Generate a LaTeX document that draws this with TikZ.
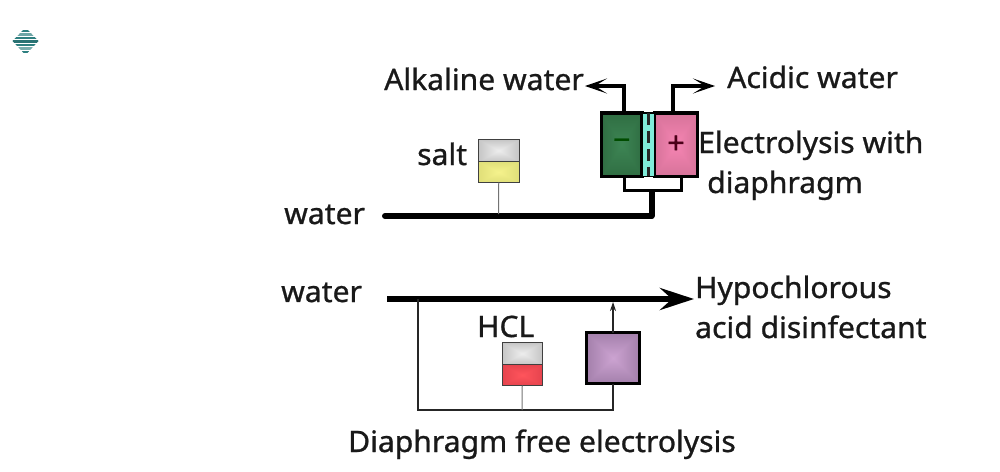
\documentclass[tikz,border=0pt]{standalone}
\usepackage{fontspec}
\setmainfont[FakeBold=0.9,FakeStretch=1.02]{Noto Sans}
\usetikzlibrary{arrows.meta,shadings}
\newcommand\pyrshade[7]{%
\pgfdeclarefunctionalshading{#1}{\pgfpoint{-50bp}{-50bp}}{\pgfpoint{50bp}{50bp}}{}{%
abs exch abs 2 copy lt {exch} if pop 50 div
dup #5 #2 sub mul #2 add exch dup #6 #3 sub mul #3 add exch #7 #4 sub mul #4 add}}
\pyrshade{pgreen}{0.24}{0.52}{0.33}{0.13}{0.34}{0.19}
\pyrshade{ppink}{0.96}{0.52}{0.70}{0.72}{0.38}{0.50}
\pyrshade{ppurple}{0.80}{0.64}{0.82}{0.48}{0.36}{0.52}
\pyrshade{pgrey}{0.93}{0.93}{0.93}{0.62}{0.62}{0.62}
\pyrshade{pyellow}{0.96}{0.95}{0.55}{0.80}{0.80}{0.40}
\pyrshade{pred}{1.00}{0.33}{0.36}{0.80}{0.20}{0.25}
\definecolor{tealicon}{HTML}{2E7F80}
\definecolor{membrane}{HTML}{7FEBD9}
\tikzset{
 lab/.style={anchor=base west,inner sep=0,font=\fontsize{29.5}{30}\selectfont,text=black!90},
 box/.style={draw=black,line width=3.5pt,inner sep=0,outer sep=0,anchor=north west},
 pipe/.style={line width=6pt,draw=black},
 midpipe/.style={line width=4pt,draw=black},
 thinpipe/.style={line width=3pt,draw=black},
 feed/.style={line width=1pt,draw=black!55},
 loop/.style={line width=2pt,draw=black!85},
 tank/.style={draw=black!75,line width=.8pt,inner sep=0,outer sep=0,anchor=north west,minimum width=40.5pt},
 bigtip/.style={-{Stealth[length=34pt,width=22pt,inset=12pt,fill=black]}},
 open/.style={-{Stealth[length=22pt,width=15pt,inset=12pt,fill=black]}},
}
\begin{document}
\begin{tikzpicture}[x=1pt,y=-1pt]
\useasboundingbox (0,0) rectangle (1000,471);
% icon
\begin{scope}
\clip (25.5,27.5) -- (38.5,41) -- (25.5,55) -- (12.5,41) -- cycle;
\foreach \yy/\cc in {31/tealicon,34.5/tealicon!70,38/tealicon,41.5/tealicon!90!black,45/tealicon,48.5/tealicon!65,52/tealicon}
  \fill[\cc] (10,\yy-1.3) rectangle (40,\yy+1.3);
\end{scope}
% upper cell
\node[box,shading=pgreen,minimum width=40.5pt,minimum height=63.5pt] (neg) at (601.5,112.8) {};
\node[box,shading=ppink,minimum width=43pt,minimum height=63.5pt] (pos) at (654.5,112.8) {};
\node[draw=black,line width=1.5pt,fill=membrane,inner sep=0,outer sep=0,minimum width=12.5pt,minimum height=63.5pt,anchor=north west] (div) at (642,112.8) {};
\draw[line width=3pt,dash pattern=on 12pt off 6pt,draw=black!85] (div.north) -- (div.south);
\node[inner sep=0,font=\fontsize{30}{30}\selectfont,text=black!70!green] (minus) at (neg.center) {−};
\node[inner sep=0,font=\fontsize{30}{30}\selectfont,text=black!60!purple] (plus) at (pos.center) {+};
\coordinate (alkb) at (624,113);
\coordinate (alkc) at (624,86);
\coordinate (alkt) at (585,86);
\coordinate (acib) at (673,113);
\coordinate (acic) at (673,86);
\coordinate (acit) at (715,86);
\draw[midpipe,open] (alkb) -- (alkc) -- (alkt);
\draw[midpipe,open] (acib) -- (acic) -- (acit);
\coordinate (ml) at (624,178);
\coordinate (mr) at (681,178);
\coordinate (mj) at (651,190);
\coordinate (mp) at (651.5,192);
\draw[thinpipe] (ml) |- (mr |- mj) -- (mr);
\coordinate (wst) at (385,216);
\coordinate (wc) at (651.5,216);
\draw[pipe,line cap=butt,line join=round] (wst) -- (wc) -- (mp);
\fill (wst) circle (3pt);
% salt tank
\node[tank,shading=pgrey,minimum height=22pt] (saltair) at (478.5,139.5) {};
\node[tank,shading=pyellow,minimum height=21pt] (saltliq) at (478.5,161.5) {};
\coordinate (sj) at (498.5,214);
\draw[feed] (saltliq.south) -- (sj);
% lower line
\coordinate (w2s) at (387,299);
\coordinate (w2e) at (694,299);
\draw[pipe,bigtip] (w2s) -- (w2e);
\node[box,shading=ppurple,minimum width=53pt,minimum height=51pt] (cell2) at (586.5,332.5) {};
\node[tank,shading=pgrey,minimum height=22pt] (hclair) at (502,342.5) {};
\node[tank,shading=pred,minimum height=21pt] (hclliq) at (502,364.5) {};
\coordinate (lt) at (417.5,299);
\coordinate (lb) at (417.5,410);
\coordinate (lr) at (613,410);
\coordinate (hj) at (522,410);
\coordinate (top) at (613,302);
\draw[loop,line join=miter] (lt) -- (lb) -- (lr) -- (cell2.south -| lr);
\draw[loop,line width=1.2pt,-{Stealth[length=9pt,width=6pt]}] (cell2.north -| top) -- (top);
\draw[feed] (hclliq.south) -- (hj);
% labels
\node[lab] (t1) at (384,90) {Alkaline water};
\node[lab] (t2) at (727,88) {Acidic water};
\node[lab] (t3) at (417,165) {salt};
\node[lab] (t4) at (284,224) {water};
\node[lab] (t5) at (698,153) {Electrolysis with};
\node[lab] (t6) at (707,193) {diaphragm};
\node[lab] (t7) at (281,302) {water};
\node[lab] (t8) at (695,298) {Hypochlorous};
\node[lab] (t9) at (695,338) {acid disinfectant};
\node[lab] (t10) at (477,337) {HCL};
\node[lab] (t11) at (348,452) {Diaphragm free electrolysis};
\end{tikzpicture}
\end{document}
